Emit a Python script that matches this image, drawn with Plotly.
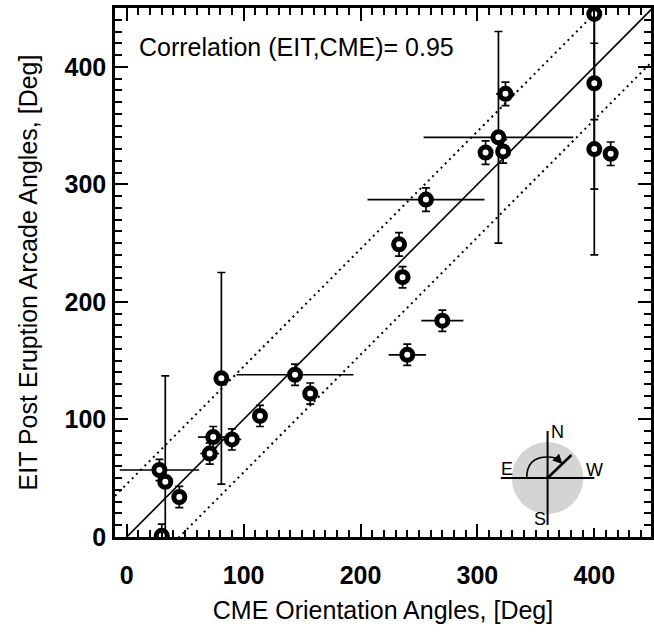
import plotly.graph_objects as go

# ---- data ----
cme_angle = [28, 33, 45, 30, 71, 74, 81, 90, 114, 144, 157, 236, 270, 240,
             400, 400, 400, 414, 324, 318, 307, 322, 256, 233]
eit_angle = [57, 47, 34, 1, 71, 85, 135, 83, 103, 138, 122, 221, 184, 155,
             445, 386, 330, 326, 377, 340, 327, 328, 287, 249]
cme_err = [34, 0, 0, 0, 8, 13, 0, 8, 0, 50, 0, 0, 18, 16,
           0, 0, 0, 0, 8, 64, 0, 0, 50, 3]
eit_err = [9, 90, 9, 10, 9, 9, 90, 9, 9, 9, 9, 9, 9, 9,
           90, 90, 90, 10, 10, 90, 10, 10, 10, 10]
band_offsets = [-45, 45]
line_x = [-10, 460]
correlation = 0.95
x_range = [-10, 448.5]
y_range = [0, 450]
major_step = 100
minor_step = 10

FONT = "Liberation Sans, Arial, Helvetica, sans-serif"

fig = go.Figure()

# one-to-one line
fig.add_trace(go.Scatter(x=line_x, y=line_x, mode="lines",
                         line=dict(color="black", width=1.6), showlegend=False,
                         hoverinfo="skip"))
# dotted band lines
for off in band_offsets:
    fig.add_trace(go.Scatter(x=line_x, y=[v + off for v in line_x], mode="lines",
                             line=dict(color="black", width=2, dash="2px,4px"),
                             showlegend=False, hoverinfo="skip"))

# data points with error bars
fig.add_trace(go.Scatter(
    x=cme_angle, y=eit_angle, mode="markers", showlegend=False,
    marker=dict(symbol="circle", size=11, color="white",
                line=dict(color="black", width=5)),
    error_y=dict(type="data", array=eit_err, visible=True, color="black",
                 thickness=1.7, width=4),
    error_x=dict(type="data", array=cme_err, visible=True, color="black",
                 thickness=1.7, width=0),
))

axis_common = dict(
    showgrid=False, zeroline=False, showline=True, linecolor="black",
    linewidth=2.5, mirror="allticks", ticks="inside", ticklen=13,
    tickwidth=2, tickcolor="black", tickmode="linear", tick0=0, dtick=major_step,
    tickfont=dict(family=FONT, size=25, color="black", weight="bold"),
    minor=dict(dtick=minor_step, ticks="inside", ticklen=7, tickwidth=2,
               tickcolor="black", showgrid=False),
)

fig.update_layout(
    width=654, height=632,
    margin=dict(l=115, r=0, t=8, b=95),
    plot_bgcolor="white", paper_bgcolor="white",
    font=dict(family=FONT, color="black"),
    xaxis=dict(range=x_range, ticklabelstandoff=14,
               title=dict(text="CME Orientation Angles, [Deg]",
                          font=dict(family=FONT, size=25), standoff=14),
               **axis_common),
    yaxis=dict(range=y_range, ticklabelstandoff=1,
               title=dict(text="EIT Post Eruption Arcade Angles, [Deg]",
                          font=dict(family=FONT, size=25), standoff=20),
               **axis_common),
    # inset axes for the compass (1 unit = 1 px)
    xaxis2=dict(domain=[0.7143, 0.8998], range=[-50, 50], anchor="y2",
                visible=False, fixedrange=True),
    yaxis2=dict(domain=[0.0170, 0.2060], range=[-50, 50], anchor="x2",
                visible=False, fixedrange=True),
)

fig.add_annotation(text=f"Correlation (EIT,CME)= {correlation:.2f}",
                   xref="paper", yref="paper", x=0.041, y=0.926,
                   xanchor="left", yanchor="middle", showarrow=False,
                   font=dict(family=FONT, size=25, color="black"))

# ---- compass inset ----
fig.add_shape(type="circle", xref="x2", yref="y2", x0=-36, x1=36, y0=-36, y1=36,
              fillcolor="#d4d4d4", line=dict(width=0), layer="above")
fig.add_shape(type="line", xref="x2", yref="y2", x0=-47, x1=47, y0=0, y1=0,
              line=dict(color="black", width=2), layer="above")
fig.add_shape(type="line", xref="x2", yref="y2", x0=0, x1=0, y0=-47, y1=47,
              line=dict(color="black", width=2), layer="above")
fig.add_shape(type="line", xref="x2", yref="y2", x0=0, x1=24, y0=0, y1=23,
              line=dict(color="black", width=2.5), layer="above")
fig.add_shape(type="path", xref="x2", yref="y2",
              path="M -21,0 Q -21,21 0,21 Q 9,21 13,17",
              line=dict(color="black", width=1.6), layer="above")
fig.add_annotation(xref="x2", yref="y2", axref="x2", ayref="y2",
                   x=15, y=14, ax=9, ay=20, text="", showarrow=True,
                   arrowhead=2, arrowsize=1.2, arrowwidth=1.6, arrowcolor="black")
for lab, lx, ly in [("N", 10, 46), ("E", -41, 9), ("W", 47, 8), ("S", -8, -41)]:
    fig.add_annotation(xref="x2", yref="y2", x=lx, y=ly, text=lab, showarrow=False,
                       font=dict(family=FONT, size=18, color="black"))

fig.write_html("out.html")
